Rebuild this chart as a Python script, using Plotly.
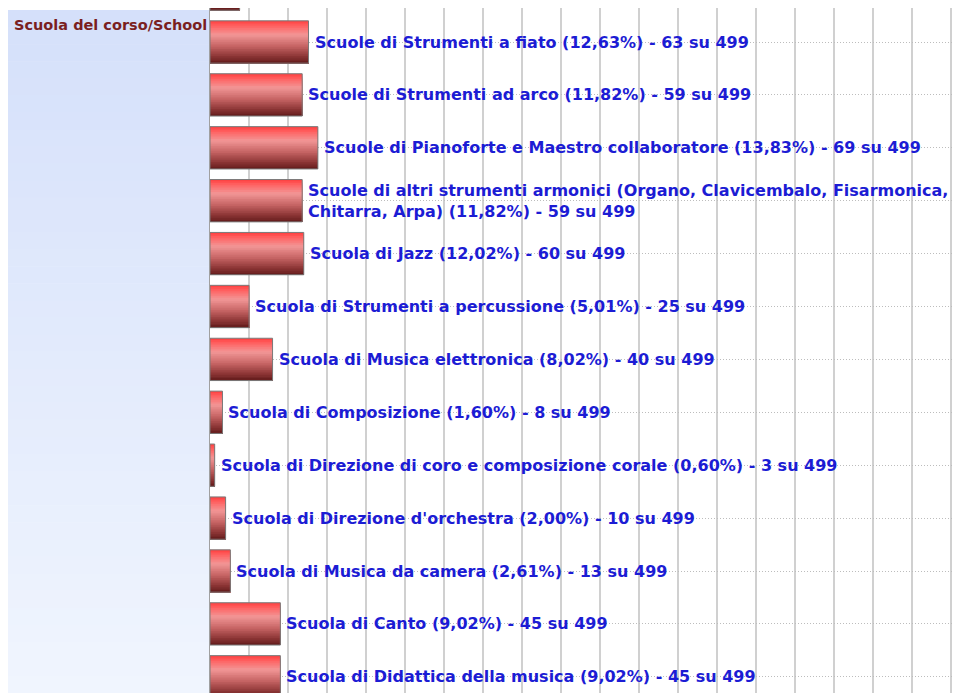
import plotly.graph_objects as go

# ---- data ----
categories = [
    "",  # bar cut off at the top of the view (label not visible)
    "Scuole di Strumenti a fiato",
    "Scuole di Strumenti ad arco",
    "Scuole di Pianoforte e Maestro collaboratore",
    "Scuole di altri strumenti armonici (Organo, Clavicembalo, Fisarmonica,<br>Chitarra, Arpa)",
    "Scuola di Jazz",
    "Scuola di Strumenti a percussione",
    "Scuola di Musica elettronica",
    "Scuola di Composizione",
    "Scuola di Direzione di coro e composizione corale",
    "Scuola di Direzione d'orchestra",
    "Scuola di Musica da camera",
    "Scuola di Canto",
    "Scuola di Didattica della musica",
]
percent_labels = ["", "12,63", "11,82", "13,83", "11,82", "12,02", "5,01", "8,02",
                  "1,60", "0,60", "2,00", "2,61", "9,02", "9,02"]
percent_values = [3.8, 12.63, 11.82, 13.83, 11.82, 12.02, 5.01, 8.02,
                  1.60, 0.60, 2.00, 2.61, 9.02, 9.02]
counts = [None, 63, 59, 69, 59, 60, 25, 40, 8, 3, 10, 13, 45, 45]
total = 499
axis_title = "Scuola del corso/School"

# ---- layout constants (page body has an 8px margin) ----
PAGE = 8
W, H = 962 - PAGE, 693 - PAGE
L = 210 - PAGE
px_per_pct = 7.8
xmax = (W - L) / px_per_pct
y_top_px, step_px = 42.0 - PAGE, 52.9
y_range = [(H - y_top_px) / step_px + 1, (0 - y_top_px) / step_px + 1]

pos = list(range(len(categories)))

fig = go.Figure()

# gradient bars built from horizontal strips
stops = [(0.0, (255, 62, 62)), (0.12, (255, 98, 98)), (0.33, (242, 150, 150)),
         (0.6, (198, 100, 100)), (0.85, (138, 52, 52)), (1.0, (100, 28, 28))]


def col_at(t):
    for (t0, c0), (t1, c1) in zip(stops[:-1], stops[1:]):
        if t0 <= t <= t1:
            f = (t - t0) / (t1 - t0)
            return "rgb(%d,%d,%d)" % tuple(round(a + (b - a) * f) for a, b in zip(c0, c1))
    return "rgb(%d,%d,%d)" % stops[-1][1]


BW = 0.8
N = 24
h = BW / N
for k in range(N):
    off = -BW / 2 + k * h
    fig.add_trace(go.Bar(
        x=percent_values, y=pos, orientation="h",
        offset=off, width=BW / 2 - off,
        marker=dict(color=col_at((k + 0.5) / N), line=dict(width=0)),
        hoverinfo="skip", showlegend=False,
    ))
# outline
fig.add_trace(go.Bar(
    x=percent_values, y=pos, orientation="h", width=BW, offset=-BW / 2,
    marker=dict(color="rgba(0,0,0,0)", line=dict(color="#7a7a7a", width=1)),
    hoverinfo="skip", showlegend=False,
))

shapes = []
# left panel gradient
c_top, c_bot = (213, 224, 250), (240, 245, 254)
NS = 40
y0p, y1p = 10 - PAGE, H
for s in range(NS):
    a = y0p + (y1p - y0p) * s / NS
    b = y0p + (y1p - y0p) * (s + 1) / NS + 0.6
    f = s / (NS - 1)
    c = tuple(round(p + (q - p) * f) for p, q in zip(c_top, c_bot))
    shapes.append(dict(type="rect", xref="paper", yref="paper",
                       x0=(8 - PAGE - L) / (W - L), x1=0, y0=1 - b / H, y1=1 - a / H,
                       fillcolor="rgb(%d,%d,%d)" % c, line=dict(width=0), layer="below"))
# hide grid in top rows
shapes.append(dict(type="rect", xref="paper", yref="paper", x0=0, x1=1,
                   y0=1 - (10 - PAGE) / H, y1=1.01, fillcolor="white", line=dict(width=0),
                   layer="between"))

annotations = [dict(
    xref="paper", yref="paper", x=(12 - PAGE - L) / (W - L), y=1 - (25 - PAGE) / H,
    xanchor="left", yanchor="middle", showarrow=False, text=axis_title,
    font=dict(family="DejaVu Sans", size=14.5, color="#7a1f1f", weight="bold"),
)]
for i, (cat, pl, v, n) in enumerate(zip(categories, percent_labels, percent_values, counts)):
    if not cat:
        continue
    annotations.append(dict(
        x=v, y=i, xref="x", yref="y", xanchor="left", yanchor="middle",
        xshift=4, showarrow=False, align="left",
        text=f"{cat} ({pl}%) - {n} su {total}",
        font=dict(family="DejaVu Sans", size=16, color="#1c1cd4", weight="bold"),
    ))

fig.update_layout(
    width=W, height=H,
    margin=dict(l=L, r=0, t=0, b=0),
    paper_bgcolor="white", plot_bgcolor="white",
    barmode="overlay",
    shapes=shapes, annotations=annotations,
    xaxis=dict(range=[0, xmax], dtick=5, tick0=0, showticklabels=False, ticks="",
               showgrid=True, gridcolor="#d0d0d0", gridwidth=1.5, zeroline=False),
    yaxis=dict(range=y_range, tickvals=pos, showticklabels=False, ticks="",
               showgrid=True, gridcolor="#bdbdbd", gridwidth=1, griddash="1px,2px",
               zeroline=False, showline=True, linecolor="#a0a0a0", linewidth=1),
)

fig.write_html("out.html")
